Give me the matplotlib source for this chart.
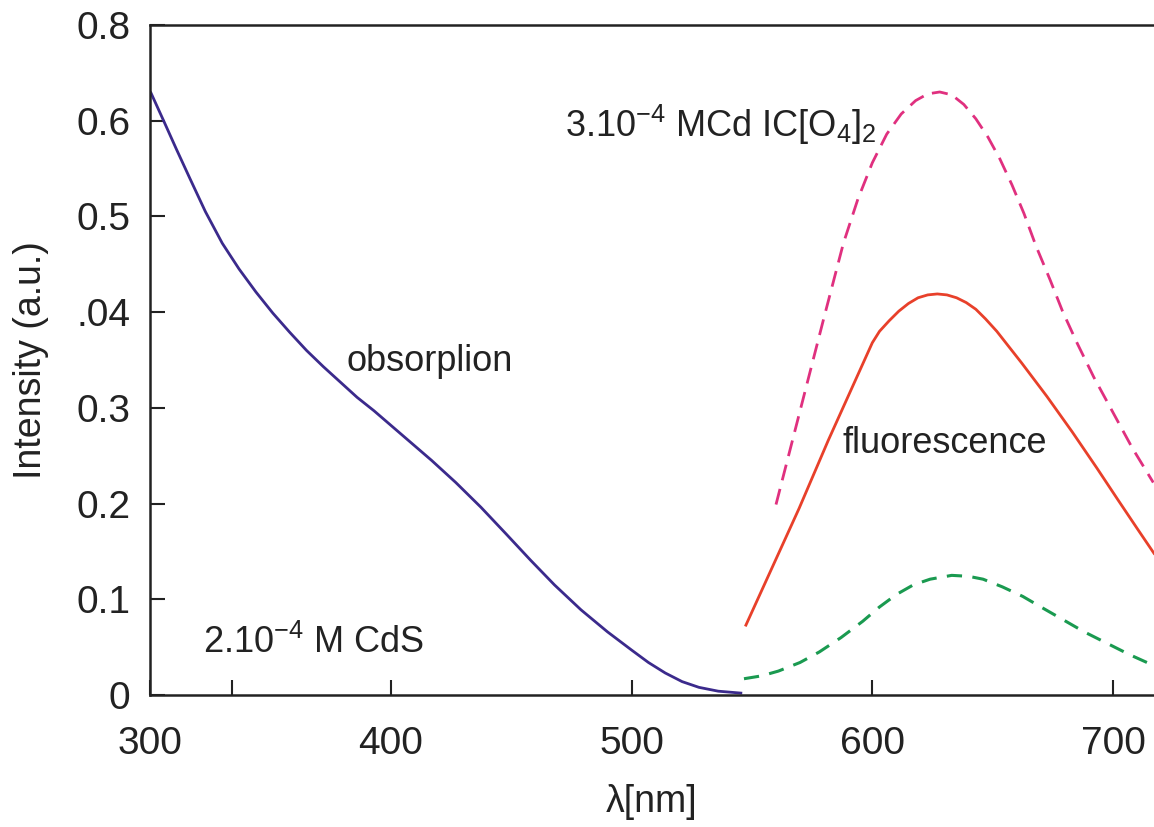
import matplotlib
matplotlib.use('Agg')
import matplotlib.pyplot as plt
import numpy as np

plt.rcParams['font.family'] = ['Liberation Sans', 'DejaVu Sans']
plt.rcParams['mathtext.fontset'] = 'custom'
plt.rcParams['mathtext.rm'] = 'Liberation Sans'
plt.rcParams['mathtext.default'] = 'regular'

# absorption (CdS)
abs_x = [300.4, 306, 311, 316.5, 323, 330, 337, 344, 351, 358, 365, 372, 379, 386, 393, 399,
         405, 411, 417, 427, 437.5, 448, 458, 468, 479, 490, 500, 507, 514, 521, 528, 536, 545.4]
abs_y = [0.629, 0.598, 0.570, 0.540, 0.505, 0.472, 0.445, 0.421, 0.399, 0.379, 0.360, 0.343, 0.327, 0.311, 0.297, 0.284,
         0.271, 0.258, 0.245, 0.222, 0.196, 0.168, 0.141, 0.115, 0.089, 0.066, 0.047, 0.034, 0.023, 0.014, 0.008, 0.004, 0.002]

# fluorescence (solid red)
fl_x = [547.5, 569.6, 581.7, 600, 603, 607, 611, 615, 619, 623, 627, 631, 635, 639, 643, 647, 651.7,
        662, 672.5, 683, 693.3, 702, 710, 717]
fl_y = [0.073, 0.195, 0.266, 0.368, 0.380, 0.391, 0.401, 0.409, 0.415, 0.418, 0.419, 0.418, 0.415, 0.410, 0.403, 0.393, 0.380,
        0.347, 0.312, 0.275, 0.237, 0.204, 0.174, 0.148]

# 3.10^-4 M Cd(ClO4)2 (pink dashed)
pk_x = [560, 570, 580, 588, 594, 600, 606, 612, 618, 623, 628, 633, 638, 643, 648, 653, 658, 663,
        668, 673.8, 679, 685, 692, 700, 708, 716.7]
pk_y = [0.199, 0.297, 0.395, 0.472, 0.518, 0.556, 0.586, 0.607, 0.621, 0.628, 0.630, 0.627, 0.617, 0.602, 0.583, 0.560, 0.533, 0.503,
        0.469, 0.434, 0.401, 0.368, 0.332, 0.295, 0.258, 0.222]

# lower curve (green dashed)
gr_x = [546.7, 554, 561, 570, 578, 587, 596, 603, 610, 617, 624, 633, 640, 646, 654, 662.5, 670, 679, 688, 697.5, 707, 716.7]
gr_y = [0.017, 0.020, 0.025, 0.034, 0.045, 0.060, 0.077, 0.092, 0.105, 0.115, 0.121, 0.125, 0.124, 0.121, 0.113, 0.103, 0.092,
        0.079, 0.066, 0.054, 0.042, 0.031]

ytick_vals = [0, 0.1, 0.2, 0.3, 0.4, 0.5, 0.6, 0.7]
ytick_labels = ['0', '0.1', '0.2', '0.3', '.04', '0.5', '0.6', '0.8']
xtick_vals = [300, 400, 500, 600, 700]


def main():
    fig = plt.figure(figsize=(11.54, 8.27), dpi=100)
    ax = fig.add_axes([0.13, 0.1596, 0.87, 0.8102])

    ax.plot(abs_x, abs_y, color='#3b2a8c', lw=2.0)
    ax.plot(fl_x, fl_y, color='#e8402a', lw=2.0)
    ax.plot(pk_x, pk_y, color='#e0307f', lw=2.0, dashes=(5.8, 3.2))
    ax.plot(gr_x, gr_y, color='#1a9a50', lw=2.2, dashes=(5.0, 3.4))

    ax.set_xlim(300, 717)
    ax.set_ylim(0, 0.7)
    ax.set_xticks(xtick_vals)
    ax.set_xticks([334], minor=True)
    ax.set_yticks(ytick_vals)
    ax.set_yticklabels(ytick_labels)

    ax.tick_params(axis='both', which='both', direction='in', length=11, width=1.5,
                   labelsize=28, colors='#222222')
    ax.tick_params(axis='x', pad=22)
    ax.tick_params(axis='y', pad=14)
    for s in ['left', 'bottom', 'top']:
        ax.spines[s].set_linewidth(1.8)
        ax.spines[s].set_color('#222222')
    ax.spines['right'].set_visible(False)

    ax.text(416, 0.348, 'obsorplion', fontsize=26, ha='center', va='center', color='#222222')
    ax.text(630, 0.263, 'fluorescence', fontsize=26, ha='center', va='center', color='#222222')
    ax.text(472.5, 0.596, r'3.10$^{-4}$ MCd IC[O$_4$]$_2$', fontsize=26, ha='left', va='center', color='#222222')
    ax.text(322, 0.054, r'2.10$^{-4}$ M CdS', fontsize=26, ha='left', va='center', color='#222222')

    ax.set_ylabel('Intensity (a.u.)', fontsize=27, color='#222222', labelpad=20)
    ax.set_xlabel('λ[nm]', fontsize=27, color='#222222', labelpad=16)

    plt.savefig('out.png', dpi=100)


if __name__ == "__main__":
    main()
